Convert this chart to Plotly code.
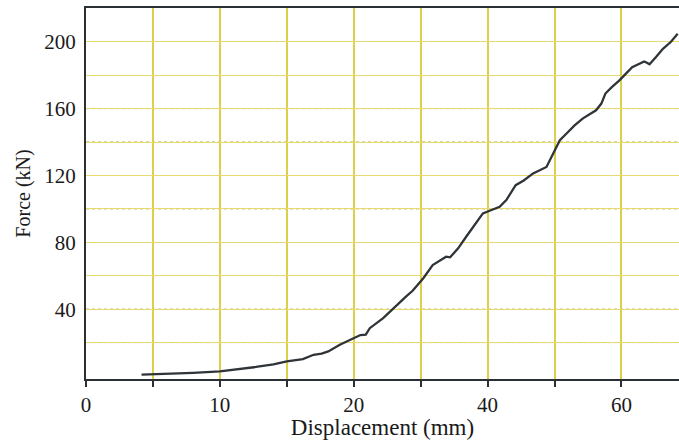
import plotly.graph_objects as go

# curve data (x in axis grid units, y in kN)
disp = [4.15, 6.0, 8.0, 10.0, 11.5, 12.7, 14.0, 15.0, 16.2, 17.0, 17.6, 18.1, 18.96,
        19.95, 20.5, 20.9, 21.2, 22.2, 22.9, 23.4, 23.9, 24.4, 24.9, 25.2, 25.9, 26.4,
        26.9, 27.2, 27.5, 27.8, 28.4, 29.0, 29.65, 30.2, 30.9, 31.4, 32.1, 32.7, 33.4,
        34.4, 34.9, 35.4, 35.9, 36.5, 37.1, 38.1, 38.5, 38.8, 39.3, 39.85, 40.8, 41.3,
        41.7, 41.9, 42.1, 42.6, 43.1, 43.7, 44.2]
force = [0.8, 1.2, 1.9, 2.8, 4.0, 5.4, 7.0, 8.7, 10.1, 12.7, 13.4, 14.7, 18.7,
         22.4, 24.5, 24.8, 28.6, 34.6, 40.0, 44.0, 47.5, 51.0, 55.5, 58.5, 66.4, 69.0,
         71.4, 71.0, 74.0, 76.4, 83.3, 90.0, 97.3, 99.0, 101.3, 105.3, 114.2, 117.0, 121.2,
         125.1, 133.1, 141.1, 145.1, 150.0, 154.0, 159.0, 163.0, 169.0, 173.0, 176.9, 184.8, 186.5,
         188.2, 187.5, 186.5, 191.0, 195.8, 200.0, 204.8]

x_tickvals = [0, 5, 10, 15, 20, 25, 30, 35, 40]
x_ticktext = ["0", "", "10", "", "20", "", "40", "", "60"]
y_tickvals = [20, 40, 60, 80, 100, 120, 140, 160, 180, 200]
y_ticktext = ["", "40", "", "80", "", "120", "", "160", "", "200"]
dashed_grid = [20, 40, 100, 140, 160]

font_family = "Liberation Serif"

fig = go.Figure()
fig.add_trace(go.Scatter(x=disp, y=force, mode="lines",
                         line=dict(color="#2f3438", width=2.3), showlegend=False,
                         hoverinfo="skip"))

shapes = []
for yv in dashed_grid:
    shapes.append(dict(type="line", xref="paper", x0=0, x1=1, yref="y", y0=yv, y1=yv,
                       line=dict(color="#b9a832", width=1, dash="dot"), layer="below"))

fig.update_layout(
    width=679, height=440,
    margin=dict(l=86, r=0, t=8, b=61),
    paper_bgcolor="white", plot_bgcolor="white",
    font=dict(family=font_family, color="#1a1a1a", size=21),
    shapes=shapes,
    xaxis=dict(range=[0, 44.3], tickmode="array", tickvals=x_tickvals, ticktext=x_ticktext,
               showgrid=True, gridcolor="#dccf4a", gridwidth=1.5,
               showline=True, linecolor="#2b3035", linewidth=2, mirror=True,
               ticks="outside", ticklen=6, tickwidth=1.5, tickcolor="#2b3035",
               tickfont=dict(size=21, family=font_family),
               title=dict(text="Displacement (mm)", font=dict(size=23, family=font_family),
                          standoff=0),
               automargin=False, zeroline=False),
    yaxis=dict(range=[-1.8, 220.2], tickmode="array", tickvals=y_tickvals, ticktext=y_ticktext,
               showgrid=True, gridcolor="#e6da70", gridwidth=1,
               showline=True, linecolor="#2b3035", linewidth=2,
               ticks="", ticklabelstandoff=4, tickfont=dict(size=21, family=font_family),
               title=dict(text="Force (kN)", font=dict(size=20, family=font_family),
                          standoff=8),
               automargin=False, zeroline=False),
)

fig.write_html("out.html", config={"displayModeBar": False},
               post_script="document.body.style.margin='0';document.body.style.overflow='hidden';")
